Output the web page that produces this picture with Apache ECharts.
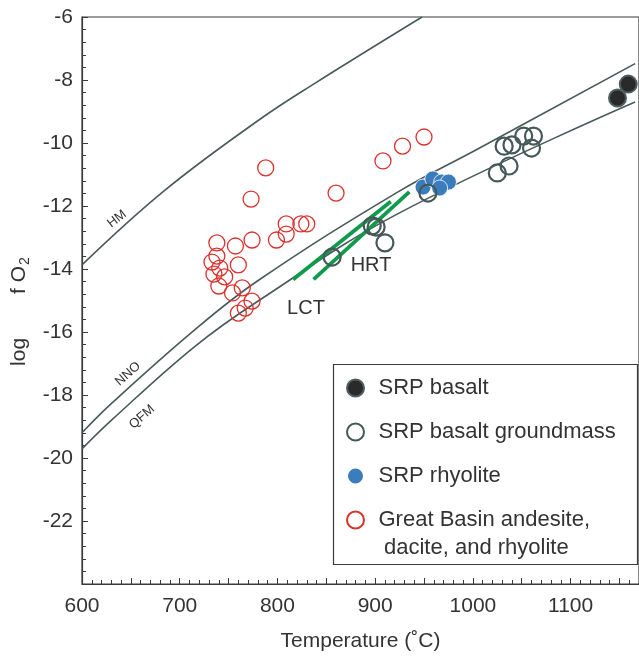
<!DOCTYPE html>
<html>
<head>
<meta charset="utf-8">
<script src="https://cdn.jsdelivr.net/npm/echarts@6/dist/echarts.min.js"></script>
<style>
  html, body { margin: 0; background: #fff; }
  #chart { width: 639px; height: 664px; }
</style>
</head>
<body>
<div id="chart"></div>
<script>
// buffer curves (T in C, log fO2)
const hmT = [600, 684, 781, 837, 948];
const hmLog = [-13.87, -11.52, -9.27, -8.13, -6.0];
const nnoT = [600, 630.5, 715, 781, 923, 1005, 1166];
const nnoLog = [-19.2, -18.26, -15.94, -14.35, -11.56, -10.19, -7.48];
const qfmT = [600, 630.5, 715, 781, 923, 1166];
const qfmLog = [-19.71, -18.79, -16.47, -15.0, -12.25, -8.7];

// green trend segments
const lctT = [816, 916];
const lctLog = [-14.33, -11.86];
const hrtT = [837, 935];
const hrtLog = [-14.33, -11.55];

// samples
const gbT = [950, 928, 908, 788, 860, 773, 809, 824, 830, 809, 799, 774, 757, 738, 738, 733, 741, 760, 735, 746, 740, 764, 754, 774, 767, 760];
const gbLog = [-9.81, -10.10, -10.57, -10.79, -11.59, -11.78, -12.57, -12.57, -12.57, -12.89, -13.08, -13.08, -13.27, -13.17, -13.59, -13.78, -13.97, -13.87, -14.16, -14.25, -14.54, -14.60, -14.76, -15.02, -15.24, -15.40];
const gmT = [856, 897, 901, 910, 954, 1032, 1040, 1052, 1062, 1060, 1025, 1037];
const gmLog = [-13.62, -12.63, -12.67, -13.17, -11.59, -10.10, -10.06, -9.78, -9.78, -10.16, -10.95, -10.73];
const rhyT = [949, 959, 968, 975, 966];
const rhyLog = [-11.40, -11.14, -11.24, -11.24, -11.43];
const basT = [1148, 1159];
const basLog = [-8.57, -8.13];

const xLabels = [600, 700, 800, 900, 1000, 1100];
const yLabels = [-6, -8, -10, -12, -14, -16, -18, -20, -22];

const pairs = (xs, ys) => xs.map((x, i) => [x, ys[i]]);

const FONT = 'Liberation Sans, Arial, sans-serif';
const LINE = '#4a5959';

function bufferLine(name, xs, ys) {
  return {
    name, type: 'line', data: pairs(xs, ys), smooth: 0.4,
    showSymbol: false, silent: true, z: 2,
    lineStyle: { color: LINE, width: 1.6 }
  };
}
function greenLine(name, xs, ys) {
  return {
    name, type: 'line', data: pairs(xs, ys), showSymbol: false, silent: true, z: 3,
    lineStyle: { color: '#109a4b', width: 3.8 }
  };
}

const chart = echarts.init(document.getElementById('chart'));

chart.setOption({
  animation: false,
  textStyle: { fontFamily: FONT },
  grid: { left: 82, top: 17, width: 561, height: 567, show: true, borderColor: '#3a3a3a', borderWidth: 1.2 },
  xAxis: {
    type: 'value', min: 600, max: 1170, interval: 50,
    name: 'Temperature (˚C)', nameLocation: 'middle', nameGap: 47,
    nameTextStyle: { fontSize: 21, color: '#333', fontFamily: FONT },
    axisLine: { lineStyle: { color: '#3a3a3a', width: 1.2 } },
    axisTick: { inside: true, length: 6, lineStyle: { color: '#3a3a3a' } },
    minorTick: { show: true, splitNumber: 5, length: 4, lineStyle: { color: '#3a3a3a' } },
    splitLine: { show: false },
    axisLabel: {
      fontSize: 21, color: '#333', margin: 12, fontFamily: FONT, showMaxLabel: false,
      formatter: v => (xLabels.indexOf(v) >= 0 ? String(v) : '')
    }
  },
  yAxis: {
    type: 'value', min: -24, max: -6, interval: 2,
    name: '{a|log}{b|f O}{s|2}', nameLocation: 'middle', nameGap: 46,
    nameTextStyle: {
      fontSize: 21, color: '#333', fontFamily: FONT,
      rich: {
        a: { fontSize: 21, color: '#333', fontFamily: FONT },
        b: { fontSize: 21, color: '#333', fontFamily: FONT, padding: [0, 0, 0, 44] },
        s: { fontSize: 14, color: '#333', fontFamily: FONT, padding: [12, 22, 0, 1] }
      }
    },
    axisLine: { lineStyle: { color: '#3a3a3a', width: 1.2 } },
    axisTick: { inside: true, length: 6, lineStyle: { color: '#3a3a3a' } },
    minorTick: { show: true, splitNumber: 5, length: 4, lineStyle: { color: '#3a3a3a' } },
    splitLine: { show: false },
    axisLabel: {
      fontSize: 21, color: '#333', margin: 9, fontFamily: FONT,
      formatter: v => (yLabels.indexOf(v) >= 0 ? String(v) : '')
    }
  },
  legend: {
    orient: 'vertical', left: 331, top: 362,
    padding: [14, 10, 31, 15],
    itemWidth: 36, itemHeight: 17, itemGap: 20,
    data: ['SRP basalt', 'SRP basalt groundmass', 'SRP rhyolite', 'Great Basin andesite, dacite, and rhyolite'],
    formatter: n => (n.indexOf('Great Basin') === 0 ? 'Great Basin andesite,' : n),
    textStyle: { fontSize: 22, color: '#333', fontFamily: FONT, lineHeight: 24 }
  },
  graphic: [
    { type: 'rect', left: 331, top: 362, shape: { width: 304, height: 200 }, style: { fill: 'none', stroke: '#3a3a3a', lineWidth: 1.2 }, z: 10 },
    { type: 'text', left: 384, top: 537, style: { text: 'dacite, and rhyolite', font: '22px ' + FONT, fill: '#333' }, z: 10 },
    { type: 'text', x: 117, y: 219, rotation: 0.66, style: { text: 'HM', font: '13px ' + FONT, fill: '#333', align: 'center', verticalAlign: 'middle' } },
    { type: 'text', x: 128, y: 374, rotation: 0.72, style: { text: 'NNO', font: '13px ' + FONT, fill: '#333', align: 'center', verticalAlign: 'middle' } },
    { type: 'text', x: 142, y: 417, rotation: 0.72, style: { text: 'QFM', font: '13px ' + FONT, fill: '#333', align: 'center', verticalAlign: 'middle' } },
    { type: 'text', x: 371, y: 265, style: { text: 'HRT', font: '20px ' + FONT, fill: '#333', align: 'center', verticalAlign: 'middle' } },
    { type: 'text', x: 306, y: 308, style: { text: 'LCT', font: '20px ' + FONT, fill: '#333', align: 'center', verticalAlign: 'middle' } }
  ],
  series: [
    bufferLine('HM', hmT, hmLog),
    bufferLine('NNO', nnoT, nnoLog),
    bufferLine('QFM', qfmT, qfmLog),
    greenLine('LCT', lctT, lctLog),
    greenLine('HRT', hrtT, hrtLog),
    {
      name: 'Great Basin andesite, dacite, and rhyolite', type: 'scatter', z: 4,
      data: pairs(gbT, gbLog), symbol: 'circle', symbolSize: 16,
      itemStyle: { color: 'rgba(255,255,255,0)', borderColor: '#d9332e', borderWidth: 1.3, opacity: 1 }
    },
    {
      name: 'SRP rhyolite', type: 'scatter', z: 5,
      data: pairs(rhyT, rhyLog), symbol: 'circle', symbolSize: 16,
      itemStyle: { color: '#3a7dbd', borderColor: '#ffffff', borderWidth: 0.8, opacity: 1 }
    },
    {
      name: 'SRP basalt groundmass', type: 'scatter', z: 6,
      data: pairs(gmT, gmLog), symbol: 'circle', symbolSize: 17,
      itemStyle: { color: 'rgba(255,255,255,0)', borderColor: '#475858', borderWidth: 2.2, opacity: 1 }
    },
    {
      name: 'SRP basalt', type: 'scatter', z: 7,
      data: pairs(basT, basLog), symbol: 'circle', symbolSize: 17,
      itemStyle: { color: '#2a2a2a', borderColor: '#4f5e5e', borderWidth: 2, opacity: 1 }
    }
  ]
});
</script>
</body>
</html>
